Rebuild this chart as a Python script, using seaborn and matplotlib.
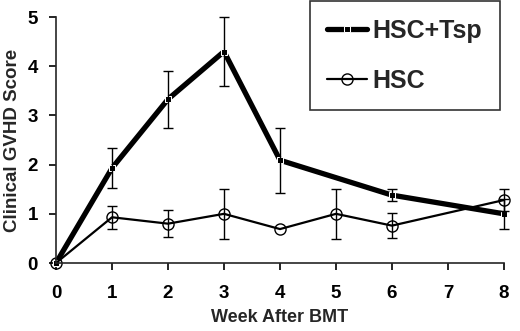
import matplotlib
matplotlib.use("Agg")
import matplotlib.pyplot as plt
import pandas as pd
import seaborn as sns

# HSC+Tsp group
tsp_weeks = [0, 1, 2, 3, 4, 6, 8]
tsp_score = [0.0, 1.93, 3.33, 4.3, 2.09, 1.38, 1.0]
tsp_err = [0.0, 0.4, 0.58, 0.7, 0.66, 0.12, 0.3]

# HSC group
hsc_weeks = [0, 1, 2, 3, 4, 5, 6, 8]
hsc_score = [0.0, 0.93, 0.8, 1.0, 0.69, 1.0, 0.76, 1.28]
hsc_err = [0.0, 0.23, 0.27, 0.51, 0.0, 0.51, 0.25, 0.23]

week_ticks = [0, 1, 2, 3, 4, 5, 6, 7, 8]
score_ticks = [0, 1, 2, 3, 4, 5]


def main() -> None:
    sns.set_theme(style="ticks")
    plt.rcParams["font.family"] = ["Liberation Sans", "DejaVu Sans"]
    plt.rcParams["font.weight"] = "bold"

    tsp = pd.DataFrame({"week": tsp_weeks, "score": tsp_score, "err": tsp_err})
    hsc = pd.DataFrame({"week": hsc_weeks, "score": hsc_score, "err": hsc_err})

    fig = plt.figure(figsize=(5.2, 3.31), dpi=100)
    ax = fig.add_axes([0.1077, 0.2054, 0.8615, 0.743])

    sns.lineplot(data=tsp, x="week", y="score", color="black", linewidth=3.8,
                 marker="s", markersize=4, label="HSC+Tsp", ax=ax, clip_on=False)
    sns.lineplot(data=hsc, x="week", y="score", color="black", linewidth=1.6,
                 marker="o", markersize=8, markerfacecolor="none", markeredgecolor="black",
                 markeredgewidth=1.0, label="HSC", ax=ax, clip_on=False)

    for d in (tsp, hsc):
        e = d[d["err"] > 0]
        ax.errorbar(e["week"], e["score"], yerr=e["err"], fmt="none", ecolor="black",
                    elinewidth=1.0, capsize=3.5, capthick=1.0, clip_on=False)

    ax.set_xlim(0, 8)
    ax.set_ylim(0, 5)
    ax.set_xticks(week_ticks)
    ax.set_yticks(score_ticks)
    ax.tick_params(axis="both", labelsize=13.5, width=1.2, length=5, colors="black")
    ax.tick_params(axis="x", pad=11)
    ax.tick_params(axis="y", pad=8)
    for lab in ax.get_xticklabels() + ax.get_yticklabels():
        lab.set_fontweight("bold")
    sns.despine(ax=ax)
    ax.spines["left"].set_linewidth(1.2)
    ax.spines["bottom"].set_linewidth(1.2)

    ax.set_xlabel("Week After BMT", fontsize=13, fontweight="bold", labelpad=5)
    ax.set_ylabel("Clinical GVHD Score", fontsize=13.5, fontweight="bold", labelpad=5)

    leg = ax.legend(loc="upper right", bbox_to_anchor=(0.99, 1.065), borderaxespad=0,
                    fontsize=18, frameon=True, fancybox=False, edgecolor="black",
                    handlelength=1.6, handletextpad=0.2, borderpad=0.7, labelspacing=1.05)
    leg.get_frame().set_linewidth(1.2)
    for t in leg.get_texts():
        t.set_fontweight("bold")

    fig.savefig("out.png", dpi=100)
    plt.close(fig)


if __name__ == "__main__":
    main()
